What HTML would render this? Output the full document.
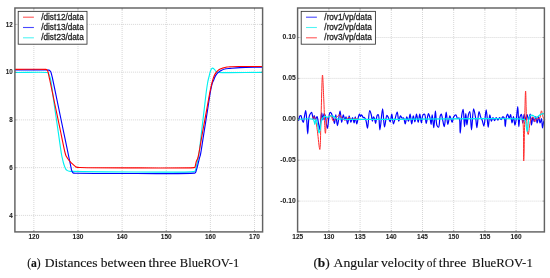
<!DOCTYPE html><html><head><meta charset="utf-8"><style>html,body{margin:0;padding:0;background:#fff;width:550px;height:278px;overflow:hidden}svg{display:block;filter:blur(0.5px)}.t{font-family:"Liberation Sans",sans-serif;fill:#222;stroke:#222;stroke-width:0.05px;font-weight:bold}.lg{stroke-width:0.28px;font-weight:normal}.c{font-family:"Liberation Serif",serif;fill:#111;stroke:#111;stroke-width:0.13px}</style></head><body>
<svg width="550" height="278" viewBox="0 0 550 278">
<g stroke="#bcbcbc" stroke-width="0.6" stroke-dasharray="1 1"><line x1="33.85" y1="8.00" x2="33.85" y2="231.90"/><line x1="77.98" y1="8.00" x2="77.98" y2="231.90"/><line x1="122.12" y1="8.00" x2="122.12" y2="231.90"/><line x1="166.25" y1="8.00" x2="166.25" y2="231.90"/><line x1="210.39" y1="8.00" x2="210.39" y2="231.90"/><line x1="254.52" y1="8.00" x2="254.52" y2="231.90"/><line x1="14.90" y1="215.40" x2="262.60" y2="215.40"/><line x1="14.90" y1="167.65" x2="262.60" y2="167.65"/><line x1="14.90" y1="119.90" x2="262.60" y2="119.90"/><line x1="14.90" y1="72.15" x2="262.60" y2="72.15"/><line x1="14.90" y1="24.40" x2="262.60" y2="24.40"/></g>
<g fill="none" stroke-width="1.12" stroke-linejoin="round">
<path d="M14.90 72.50C25.60 72.50 43.80 72.03 47.00 72.50C47.58 72.58 47.72 72.59 48.00 72.80C48.33 73.05 48.57 73.53 48.80 74.00C49.08 74.57 49.25 75.26 49.50 76.00C49.81 76.90 50.14 77.49 50.50 79.00C51.52 83.30 52.97 95.89 54.20 104.33C55.44 112.78 56.67 121.22 57.91 129.67C59.15 138.11 60.74 150.21 61.62 155.00C61.97 156.92 62.22 157.76 62.50 159.00C62.74 160.07 62.93 161.00 63.20 162.00C63.47 163.00 63.80 164.08 64.10 165.00C64.36 165.79 64.64 166.52 64.90 167.20C65.13 167.81 65.27 168.38 65.60 168.90C65.95 169.45 66.42 170.01 67.00 170.40C67.63 170.83 68.49 171.13 69.30 171.30C70.15 171.48 70.43 171.37 72.00 171.40C82.52 171.60 186.48 172.78 193.80 171.60C194.55 171.48 194.66 171.57 195.00 171.20C195.72 170.43 195.94 167.69 196.40 165.80C196.91 163.74 197.47 161.25 197.90 159.30C198.25 157.72 198.47 156.99 198.80 155.00C199.52 150.56 200.51 140.56 201.37 133.33C202.23 126.11 203.09 118.89 203.94 111.67C204.80 104.44 205.80 95.23 206.52 90.00C206.93 87.02 207.24 85.01 207.60 83.00C207.87 81.48 208.11 80.23 208.40 79.00C208.65 77.92 208.94 77.03 209.20 76.00C209.47 74.90 209.71 73.63 210.00 72.60C210.25 71.72 210.49 70.91 210.80 70.20C211.07 69.60 211.33 68.95 211.70 68.60C211.99 68.32 212.38 68.09 212.70 68.10C213.01 68.11 213.31 68.37 213.60 68.60C213.95 68.88 214.26 69.31 214.60 69.70C214.96 70.11 215.33 70.60 215.70 71.00C216.03 71.36 216.28 71.76 216.70 72.00C217.18 72.27 217.49 72.33 218.50 72.45C223.43 73.05 247.90 72.42 262.60 72.40" stroke="#00f0f0"/>
<path d="M14.90 69.95C25.53 69.95 42.54 69.79 46.80 69.95C47.87 69.99 48.26 69.95 48.80 70.10C49.20 70.21 49.50 70.35 49.80 70.60C50.15 70.89 50.45 71.33 50.70 71.80C51.00 72.36 51.18 73.05 51.40 73.80C51.68 74.74 51.83 75.40 52.20 77.00C53.27 81.68 56.03 95.44 57.95 104.67C59.87 113.89 61.78 123.11 63.70 132.33C65.62 141.56 68.61 155.94 69.45 160.00C69.68 161.14 69.74 161.42 69.90 162.20C70.08 163.08 70.30 164.06 70.50 165.00C70.70 165.96 70.91 166.99 71.10 167.90C71.27 168.71 71.38 169.50 71.60 170.20C71.79 170.82 72.00 171.43 72.30 171.90C72.55 172.30 72.83 172.68 73.20 172.90C73.59 173.12 74.07 173.14 74.60 173.20C75.29 173.28 75.60 173.24 77.00 173.25C86.79 173.35 188.01 174.01 194.30 173.15C194.86 173.07 194.93 173.12 195.20 172.90C195.62 172.55 195.90 171.61 196.20 170.80C196.58 169.77 196.85 168.54 197.20 167.20C197.64 165.52 198.17 163.22 198.60 161.50C198.96 160.08 199.27 158.77 199.60 157.60C199.87 156.64 200.09 156.30 200.39 155.00C201.25 151.30 202.70 140.56 203.85 133.33C205.00 126.11 206.15 118.89 207.30 111.67C208.45 104.44 209.78 95.10 210.75 90.00C211.29 87.19 211.64 85.23 212.20 83.50C212.59 82.29 213.02 81.62 213.50 80.50C214.12 79.07 214.73 77.01 215.60 75.60C216.37 74.35 217.28 73.31 218.30 72.40C219.29 71.52 220.38 70.79 221.60 70.20C222.90 69.57 224.47 69.10 225.90 68.80C227.27 68.51 228.33 68.55 230.00 68.40C232.60 68.17 235.99 67.80 240.00 67.60C246.02 67.29 255.07 67.27 262.60 67.10" stroke="#0000ff"/>
<path d="M14.90 69.40C25.20 69.40 42.67 68.94 45.80 69.40C46.38 69.48 46.51 69.50 46.80 69.70C47.13 69.93 47.37 70.35 47.60 70.80C47.90 71.39 48.09 72.18 48.30 73.00C48.56 74.03 48.75 75.33 49.00 76.50C49.25 77.67 49.42 78.31 49.79 80.00C50.75 84.42 53.14 96.00 54.82 104.00C56.49 112.00 58.17 120.00 59.85 128.00C61.52 136.00 63.81 147.73 64.87 152.00C65.27 153.57 65.46 154.33 65.80 155.20C66.05 155.84 66.30 156.27 66.60 156.80C66.90 157.34 67.22 157.83 67.60 158.40C68.06 159.08 68.60 159.89 69.20 160.60C69.83 161.35 70.58 162.08 71.30 162.80C72.02 163.52 72.77 164.24 73.50 164.90C74.20 165.53 74.88 166.29 75.60 166.70C76.22 167.05 76.81 167.21 77.50 167.35C78.27 167.50 78.55 167.46 80.00 167.50C89.80 167.80 188.13 168.32 194.00 167.60C194.50 167.54 194.58 167.61 194.80 167.40C195.17 167.06 195.28 166.03 195.50 165.20C195.78 164.13 195.91 162.70 196.30 161.50C196.69 160.30 197.31 159.72 197.84 158.00C199.13 153.78 200.61 142.89 202.00 135.33C203.39 127.78 204.78 120.22 206.16 112.67C207.55 105.11 209.13 95.71 210.33 90.00C211.06 86.51 211.62 84.08 212.30 81.60C212.85 79.59 213.29 77.81 214.00 76.20C214.62 74.78 215.35 73.51 216.20 72.40C217.00 71.36 217.84 70.41 218.90 69.70C220.00 68.96 221.38 68.55 222.70 68.10C224.07 67.64 225.69 67.23 227.00 67.00C228.08 66.81 228.71 66.78 230.00 66.70C232.36 66.56 236.00 66.54 240.00 66.50C246.02 66.44 255.07 66.50 262.60 66.50" stroke="#ff0000"/>
</g>
<g stroke="#626262" stroke-width="0.5"><line x1="33.85" y1="231.90" x2="33.85" y2="230.10"/><line x1="33.85" y1="8.00" x2="33.85" y2="9.80"/><line x1="77.98" y1="231.90" x2="77.98" y2="230.10"/><line x1="77.98" y1="8.00" x2="77.98" y2="9.80"/><line x1="122.12" y1="231.90" x2="122.12" y2="230.10"/><line x1="122.12" y1="8.00" x2="122.12" y2="9.80"/><line x1="166.25" y1="231.90" x2="166.25" y2="230.10"/><line x1="166.25" y1="8.00" x2="166.25" y2="9.80"/><line x1="210.39" y1="231.90" x2="210.39" y2="230.10"/><line x1="210.39" y1="8.00" x2="210.39" y2="9.80"/><line x1="254.52" y1="231.90" x2="254.52" y2="230.10"/><line x1="254.52" y1="8.00" x2="254.52" y2="9.80"/><line x1="14.90" y1="215.40" x2="16.70" y2="215.40"/><line x1="262.60" y1="215.40" x2="260.80" y2="215.40"/><line x1="14.90" y1="167.65" x2="16.70" y2="167.65"/><line x1="262.60" y1="167.65" x2="260.80" y2="167.65"/><line x1="14.90" y1="119.90" x2="16.70" y2="119.90"/><line x1="262.60" y1="119.90" x2="260.80" y2="119.90"/><line x1="14.90" y1="72.15" x2="16.70" y2="72.15"/><line x1="262.60" y1="72.15" x2="260.80" y2="72.15"/><line x1="14.90" y1="24.40" x2="16.70" y2="24.40"/><line x1="262.60" y1="24.40" x2="260.80" y2="24.40"/></g>
<rect x="14.90" y="8.00" width="247.70" height="223.90" fill="none" stroke="#626262" stroke-width="1.45"/>
<g stroke="#bcbcbc" stroke-width="0.6" stroke-dasharray="1 1"><line x1="328.90" y1="8.00" x2="328.90" y2="231.90"/><line x1="360.09" y1="8.00" x2="360.09" y2="231.90"/><line x1="391.29" y1="8.00" x2="391.29" y2="231.90"/><line x1="422.49" y1="8.00" x2="422.49" y2="231.90"/><line x1="453.68" y1="8.00" x2="453.68" y2="231.90"/><line x1="484.88" y1="8.00" x2="484.88" y2="231.90"/><line x1="516.08" y1="8.00" x2="516.08" y2="231.90"/><line x1="297.60" y1="201.10" x2="544.40" y2="201.10"/><line x1="297.60" y1="160.20" x2="544.40" y2="160.20"/><line x1="297.60" y1="119.30" x2="544.40" y2="119.30"/><line x1="297.60" y1="78.40" x2="544.40" y2="78.40"/><line x1="297.60" y1="37.50" x2="544.40" y2="37.50"/></g>
<g fill="none" stroke-width="1.2" stroke-linejoin="round" stroke-linecap="round">
<path d="M298.00 118.70C298.23 119.30 298.47 120.52 298.70 120.50C299.05 120.48 299.11 116.94 299.70 116.20C300.02 115.79 300.56 115.45 300.90 115.60C301.51 115.87 301.63 118.69 302.10 119.90C302.46 120.84 302.95 122.35 303.30 122.30C303.83 122.23 304.09 118.20 304.50 116.20C304.89 114.27 305.36 110.48 305.70 110.50C306.13 110.52 306.39 116.46 306.70 119.90C307.07 124.08 307.35 133.80 307.70 133.80C308.08 133.80 308.30 121.35 308.90 118.00C309.19 116.39 309.40 115.49 309.90 114.50C310.34 113.63 311.12 112.20 311.60 112.30C312.34 112.46 312.68 118.78 313.20 118.80C313.57 118.82 313.96 115.59 314.30 115.60C314.70 115.62 314.92 119.85 315.40 119.90C315.84 119.94 316.53 116.54 317.00 116.60C317.68 116.68 318.12 121.88 318.60 124.20C319.00 126.15 319.37 129.61 319.70 129.60C320.13 129.58 320.44 122.97 320.80 120.00C321.11 117.43 321.35 112.81 321.70 112.80C322.05 112.79 322.48 119.89 322.90 119.90C323.29 119.91 323.53 113.91 324.10 113.80C324.44 113.73 324.97 114.71 325.30 115.60C325.99 117.44 326.02 122.45 326.50 124.80C326.80 126.29 327.20 128.42 327.50 128.40C327.99 128.36 328.22 121.56 328.70 118.70C329.08 116.39 329.28 112.82 330.00 112.50C330.34 112.35 330.85 112.80 331.20 113.20C331.73 113.81 332.02 115.14 332.40 116.20C332.82 117.36 333.25 118.67 333.60 119.90C333.94 121.10 334.21 123.51 334.50 123.50C334.95 123.48 335.35 114.80 335.80 114.80C336.31 114.80 336.84 125.59 337.40 125.60C337.91 125.61 338.52 119.52 339.00 116.90C339.40 114.74 339.72 110.99 340.10 111.00C340.62 111.01 341.10 122.28 341.70 122.30C342.19 122.32 342.72 114.82 343.30 114.80C343.80 114.78 344.40 120.19 344.90 120.20C345.29 120.21 345.63 116.88 346.00 116.90C346.53 116.93 347.08 123.91 347.60 123.90C348.15 123.89 348.62 115.92 349.20 115.90C349.73 115.88 350.31 122.28 350.90 122.30C351.42 122.32 351.98 117.49 352.50 117.50C353.05 117.51 353.66 122.92 354.10 122.90C354.56 122.88 354.77 116.91 355.20 116.90C355.66 116.89 356.27 123.90 356.80 123.90C357.33 123.90 357.84 118.67 358.40 116.90C358.76 115.77 359.12 114.21 359.50 114.20C359.85 114.19 360.23 116.38 360.60 116.40C360.93 116.42 361.23 114.80 361.60 114.80C362.08 114.81 362.61 117.17 363.20 117.50C363.55 117.70 363.95 117.30 364.30 117.50C364.89 117.83 365.44 119.01 365.90 120.20C366.63 122.12 366.98 128.22 367.50 128.20C368.27 128.17 368.76 110.61 369.70 110.50C370.18 110.44 370.87 113.20 371.30 114.80C371.81 116.70 371.99 121.18 372.40 121.20C372.74 121.21 373.05 116.97 373.50 116.90C373.80 116.85 374.21 117.79 374.50 118.50C374.98 119.66 375.21 123.41 375.60 123.40C376.10 123.39 376.36 116.36 377.20 115.30C377.52 114.89 377.98 114.62 378.30 114.80C379.43 115.45 379.26 129.89 379.90 129.90C380.65 129.91 381.81 108.79 382.60 108.80C383.33 108.81 383.67 126.96 384.50 127.00C385.17 127.03 385.94 115.46 386.90 115.30C387.39 115.22 387.99 117.01 388.50 118.00C389.09 119.14 389.71 121.85 390.20 121.80C390.87 121.73 391.29 114.19 391.80 114.20C392.37 114.21 392.74 123.85 393.40 123.90C393.87 123.94 394.43 120.85 395.00 119.10C395.68 116.99 396.59 112.06 397.20 112.10C397.89 112.14 398.18 121.16 398.80 121.20C399.28 121.23 399.73 116.02 400.40 115.90C400.87 115.82 401.38 117.69 402.00 118.00C402.48 118.24 403.15 117.66 403.60 118.00C404.47 118.67 404.69 123.91 405.20 123.90C405.76 123.89 406.17 116.95 406.80 116.90C407.30 116.86 408.00 121.24 408.50 121.20C409.13 121.15 409.60 114.18 410.10 114.20C410.68 114.22 411.14 123.89 411.70 123.90C412.21 123.91 412.72 115.92 413.30 115.90C413.80 115.88 414.39 121.81 414.90 121.80C415.47 121.78 415.96 114.20 416.50 114.20C417.06 114.20 417.65 122.30 418.20 122.30C418.75 122.30 419.28 114.20 419.80 114.20C420.34 114.20 420.86 122.90 421.40 122.90C421.92 122.90 422.03 115.95 423.00 114.80C423.44 114.28 424.16 113.95 424.60 114.20C425.63 114.79 425.58 123.38 426.20 123.40C426.84 123.42 427.64 113.75 428.40 113.70C428.92 113.67 429.57 116.40 430.00 118.00C430.52 119.92 430.76 124.51 431.10 124.50C431.51 124.49 431.79 114.80 432.20 114.80C432.67 114.80 433.30 127.71 433.80 127.70C434.37 127.69 434.85 111.00 435.40 111.00C435.92 111.00 435.87 123.25 437.00 125.60C437.44 126.52 438.16 127.35 438.60 127.20C439.59 126.87 439.43 117.96 440.20 115.90C440.52 115.03 440.96 114.14 441.30 114.20C441.94 114.31 442.37 119.02 442.90 121.20C443.37 123.12 443.86 126.63 444.30 126.60C445.01 126.56 445.60 112.10 446.20 112.10C446.76 112.10 447.10 124.46 447.80 124.50C448.39 124.53 449.13 115.94 449.90 115.90C450.58 115.87 451.44 122.31 452.10 122.30C452.70 122.29 452.90 118.21 453.70 116.90C454.29 115.94 455.29 114.68 455.90 114.80C456.60 114.94 456.79 118.17 457.50 118.50C457.96 118.71 458.67 117.71 459.10 118.00C460.39 118.88 459.78 133.10 460.20 133.10C460.67 133.10 461.06 119.07 461.80 114.80C462.21 112.45 462.81 109.37 463.20 109.40C463.88 109.46 464.03 126.59 464.50 126.60C464.91 126.61 465.39 113.70 465.80 113.70C466.19 113.70 466.45 124.99 466.90 125.00C467.33 125.01 467.72 117.23 468.40 114.80C468.80 113.36 469.40 111.44 469.80 111.50C470.71 111.64 470.89 129.90 471.50 129.90C472.15 129.90 472.70 108.85 473.60 108.80C474.23 108.76 475.24 115.81 475.80 119.10C476.31 122.08 476.47 127.70 476.90 127.70C477.49 127.70 478.17 111.57 479.00 111.50C479.49 111.46 480.00 115.34 480.60 116.90C481.09 118.16 481.71 118.92 482.20 120.20C482.84 121.86 483.37 126.14 483.90 126.10C484.76 126.04 485.49 109.89 486.20 109.90C486.93 109.91 487.55 127.20 488.20 127.20C488.75 127.20 489.15 114.84 489.80 114.80C490.27 114.77 490.78 121.15 491.40 121.20C491.88 121.24 492.45 117.52 493.00 117.50C493.52 117.49 494.07 120.70 494.60 120.70C495.13 120.70 495.63 117.53 496.20 117.50C496.74 117.47 497.35 120.21 497.90 120.20C498.45 120.19 498.94 117.53 499.50 117.50C500.01 117.47 500.59 119.63 501.10 119.60C501.66 119.57 502.09 117.04 502.70 116.90C503.18 116.79 503.89 117.31 504.30 118.00C505.16 119.45 504.85 126.60 505.20 126.60C505.58 126.60 505.85 118.52 506.50 116.40C506.82 115.36 507.22 114.18 507.60 114.20C508.11 114.22 508.69 118.30 509.20 118.30C509.69 118.30 510.19 114.56 510.60 114.60C511.20 114.66 511.48 122.98 512.00 123.00C512.46 123.01 513.04 116.49 513.50 116.50C514.02 116.52 514.40 125.09 514.90 125.10C515.34 125.11 515.88 121.19 516.30 118.70C516.88 115.29 517.41 106.49 517.80 106.50C518.31 106.52 518.35 126.58 518.80 126.60C519.11 126.61 519.22 119.37 519.90 117.20C520.29 115.94 520.98 114.33 521.40 114.40C522.09 114.52 522.33 123.00 522.80 123.00C523.27 123.00 523.66 114.43 524.20 114.40C524.65 114.38 525.21 120.10 525.70 120.10C526.18 120.10 526.63 114.50 527.10 114.50C527.56 114.50 528.00 119.99 528.50 120.00C529.03 120.01 529.74 113.96 530.20 114.00C530.82 114.05 531.00 125.09 531.50 125.10C531.92 125.11 532.35 117.24 532.90 117.20C533.32 117.17 533.83 121.61 534.30 121.60C534.80 121.59 535.34 116.48 535.80 116.50C536.32 116.52 536.73 123.00 537.20 123.00C537.67 123.00 538.12 116.50 538.60 116.50C539.08 116.50 539.56 122.98 540.10 123.00C540.54 123.02 541.13 118.66 541.50 118.70C542.03 118.76 542.09 127.98 542.50 128.00C542.84 128.01 543.27 123.01 543.70 121.60C543.92 120.87 544.17 120.53 544.40 120.00" stroke="#0000ff"/>
<path d="M312.50 119.30C312.90 118.37 313.24 116.58 313.70 116.50C314.04 116.44 314.47 117.08 314.80 117.70C315.47 118.96 315.96 121.94 316.40 124.20C316.87 126.62 317.08 128.74 317.50 131.80C318.14 136.47 319.23 149.53 319.80 149.50C320.55 149.47 320.59 129.32 321.00 118.00C321.48 104.78 321.96 75.00 322.50 75.00C322.91 75.00 323.35 91.07 323.80 100.00C324.32 110.31 324.76 133.28 325.40 133.30C325.79 133.31 325.89 124.15 326.70 121.00C327.24 118.92 327.83 116.71 328.80 116.00C329.42 115.54 330.36 115.43 331.00 115.80C332.02 116.40 332.32 120.84 333.30 121.00C334.19 121.15 335.42 118.57 336.50 117.50C337.49 116.52 338.58 114.72 339.50 114.80C340.42 114.88 341.05 117.12 342.00 118.00C342.90 118.83 343.92 119.98 345.00 120.00C346.23 120.02 347.77 117.47 349.00 117.50C350.08 117.53 350.96 119.45 352.00 119.60C352.97 119.74 353.99 118.65 355.00 118.60C355.99 118.55 357.00 119.07 358.00 119.30" stroke="#ff2a2a" stroke-width="1.0"/>
<path d="M521.50 119.30C521.80 119.40 522.13 119.24 522.40 119.60C524.18 121.99 523.32 161.00 523.70 161.00C524.09 161.00 524.35 131.59 524.70 119.00C524.99 108.72 525.28 91.00 525.60 91.00C525.92 91.00 526.05 111.04 526.60 119.00C527.01 124.93 527.50 134.48 528.20 134.50C528.88 134.52 529.44 122.99 530.70 120.10C531.33 118.66 532.21 117.14 532.90 117.20C533.70 117.27 534.35 121.58 535.10 121.60C535.79 121.62 536.34 118.33 537.20 118.00C537.84 117.75 538.79 119.03 539.40 118.70C540.54 118.07 540.88 110.79 541.50 110.80C542.06 110.81 542.32 115.77 543.00 117.20C543.40 118.04 543.93 118.40 544.40 119.00" stroke="#ff2a2a" stroke-width="1.0"/>
<path d="M297.80 119.30C302.87 119.30 310.77 117.90 313.00 119.30C313.99 119.92 313.98 121.10 314.30 122.00C314.60 122.83 314.69 124.51 314.90 124.50C315.21 124.49 315.46 119.03 315.90 119.00C316.33 118.97 317.02 122.22 317.50 124.20C318.12 126.73 318.54 132.96 319.10 133.00C319.46 133.02 319.88 131.01 320.20 129.60C320.69 127.40 320.66 123.15 321.30 121.00C321.72 119.60 322.16 118.48 322.90 117.70C323.54 117.03 324.55 116.40 325.30 116.40C325.97 116.40 326.58 117.41 327.20 117.40C327.81 117.39 328.34 116.66 329.00 116.40C329.73 116.11 330.62 115.79 331.40 115.80C332.15 115.81 332.88 116.05 333.60 116.40C334.42 116.80 335.16 117.73 336.00 118.20C336.80 118.65 337.65 119.11 338.50 119.20C339.32 119.29 340.07 118.82 341.00 118.80C342.18 118.78 342.67 119.16 345.00 119.30C360.49 120.26 513.54 117.09 523.50 119.30C524.46 119.51 524.56 119.44 525.00 120.00C526.17 121.50 526.52 131.51 527.20 131.50C527.96 131.48 527.98 119.75 529.30 117.20C529.90 116.03 530.72 115.27 531.50 115.10C532.17 114.95 532.94 115.39 533.60 115.80C534.39 116.29 535.05 117.94 535.80 118.00C536.48 118.06 537.14 117.04 537.90 116.50C538.79 115.86 539.87 114.90 540.80 114.40C541.55 114.00 542.35 113.62 543.00 113.60C543.52 113.58 543.93 113.87 544.40 114.00" stroke="#00f0f0"/>
</g>
<g stroke="#626262" stroke-width="0.5"><line x1="328.90" y1="231.90" x2="328.90" y2="230.10"/><line x1="328.90" y1="8.00" x2="328.90" y2="9.80"/><line x1="360.09" y1="231.90" x2="360.09" y2="230.10"/><line x1="360.09" y1="8.00" x2="360.09" y2="9.80"/><line x1="391.29" y1="231.90" x2="391.29" y2="230.10"/><line x1="391.29" y1="8.00" x2="391.29" y2="9.80"/><line x1="422.49" y1="231.90" x2="422.49" y2="230.10"/><line x1="422.49" y1="8.00" x2="422.49" y2="9.80"/><line x1="453.68" y1="231.90" x2="453.68" y2="230.10"/><line x1="453.68" y1="8.00" x2="453.68" y2="9.80"/><line x1="484.88" y1="231.90" x2="484.88" y2="230.10"/><line x1="484.88" y1="8.00" x2="484.88" y2="9.80"/><line x1="516.08" y1="231.90" x2="516.08" y2="230.10"/><line x1="516.08" y1="8.00" x2="516.08" y2="9.80"/><line x1="297.60" y1="201.10" x2="299.40" y2="201.10"/><line x1="544.40" y1="201.10" x2="542.60" y2="201.10"/><line x1="297.60" y1="160.20" x2="299.40" y2="160.20"/><line x1="544.40" y1="160.20" x2="542.60" y2="160.20"/><line x1="297.60" y1="119.30" x2="299.40" y2="119.30"/><line x1="544.40" y1="119.30" x2="542.60" y2="119.30"/><line x1="297.60" y1="78.40" x2="299.40" y2="78.40"/><line x1="544.40" y1="78.40" x2="542.60" y2="78.40"/><line x1="297.60" y1="37.50" x2="299.40" y2="37.50"/><line x1="544.40" y1="37.50" x2="542.60" y2="37.50"/></g>
<rect x="297.60" y="8.00" width="246.80" height="223.90" fill="none" stroke="#626262" stroke-width="1.45"/>
<text class="t" x="33.85" y="238.50" font-size="6.4" text-anchor="middle" textLength="10.90" lengthAdjust="spacingAndGlyphs">120</text>
<text class="t" x="77.98" y="238.50" font-size="6.4" text-anchor="middle" textLength="10.90" lengthAdjust="spacingAndGlyphs">130</text>
<text class="t" x="122.12" y="238.50" font-size="6.4" text-anchor="middle" textLength="10.90" lengthAdjust="spacingAndGlyphs">140</text>
<text class="t" x="166.25" y="238.50" font-size="6.4" text-anchor="middle" textLength="10.90" lengthAdjust="spacingAndGlyphs">150</text>
<text class="t" x="210.39" y="238.50" font-size="6.4" text-anchor="middle" textLength="10.90" lengthAdjust="spacingAndGlyphs">160</text>
<text class="t" x="254.52" y="238.50" font-size="6.4" text-anchor="middle" textLength="10.90" lengthAdjust="spacingAndGlyphs">170</text>
<text class="t" x="12.70" y="217.50" font-size="6.4" text-anchor="end" textLength="3.50" lengthAdjust="spacingAndGlyphs">4</text>
<text class="t" x="12.70" y="169.75" font-size="6.4" text-anchor="end" textLength="3.50" lengthAdjust="spacingAndGlyphs">6</text>
<text class="t" x="12.70" y="122.00" font-size="6.4" text-anchor="end" textLength="3.50" lengthAdjust="spacingAndGlyphs">8</text>
<text class="t" x="12.70" y="74.25" font-size="6.4" text-anchor="end" textLength="7.00" lengthAdjust="spacingAndGlyphs">10</text>
<text class="t" x="12.70" y="26.50" font-size="6.4" text-anchor="end" textLength="7.00" lengthAdjust="spacingAndGlyphs">12</text>
<text class="t" x="297.70" y="238.60" font-size="6.4" text-anchor="middle" textLength="10.90" lengthAdjust="spacingAndGlyphs">125</text>
<text class="t" x="328.90" y="238.60" font-size="6.4" text-anchor="middle" textLength="10.90" lengthAdjust="spacingAndGlyphs">130</text>
<text class="t" x="360.09" y="238.60" font-size="6.4" text-anchor="middle" textLength="10.90" lengthAdjust="spacingAndGlyphs">135</text>
<text class="t" x="391.29" y="238.60" font-size="6.4" text-anchor="middle" textLength="10.90" lengthAdjust="spacingAndGlyphs">140</text>
<text class="t" x="422.49" y="238.60" font-size="6.4" text-anchor="middle" textLength="10.90" lengthAdjust="spacingAndGlyphs">145</text>
<text class="t" x="453.68" y="238.60" font-size="6.4" text-anchor="middle" textLength="10.90" lengthAdjust="spacingAndGlyphs">150</text>
<text class="t" x="484.88" y="238.60" font-size="6.4" text-anchor="middle" textLength="10.90" lengthAdjust="spacingAndGlyphs">155</text>
<text class="t" x="516.08" y="238.60" font-size="6.4" text-anchor="middle" textLength="10.90" lengthAdjust="spacingAndGlyphs">160</text>
<text class="t" x="295.70" y="39.00" font-size="6.4" text-anchor="end" textLength="13.20" lengthAdjust="spacingAndGlyphs">0.10</text>
<text class="t" x="295.70" y="79.90" font-size="6.4" text-anchor="end" textLength="13.20" lengthAdjust="spacingAndGlyphs">0.05</text>
<text class="t" x="295.70" y="120.80" font-size="6.4" text-anchor="end" textLength="13.20" lengthAdjust="spacingAndGlyphs">0.00</text>
<text class="t" x="295.70" y="161.70" font-size="6.4" text-anchor="end" textLength="15.40" lengthAdjust="spacingAndGlyphs">-0.05</text>
<text class="t" x="295.70" y="202.60" font-size="6.4" text-anchor="end" textLength="15.40" lengthAdjust="spacingAndGlyphs">-0.10</text>
<rect x="18.20" y="11.35" width="68.80" height="32.85" fill="#fff" stroke="#303030" stroke-width="0.85"/>
<line x1="23.00" y1="17.20" x2="33.90" y2="17.20" stroke="#ff5858" stroke-width="1.1"/>
<text class="t lg" x="41.25 43.53 48.12 49.80 53.93 56.41 60.89 65.47 67.75 72.15 76.83 79.23" y="19.85" font-size="8.20">/dist12/data</text>
<line x1="23.00" y1="27.50" x2="33.90" y2="27.50" stroke="#4848ff" stroke-width="1.1"/>
<text class="t lg" x="41.25 43.53 48.12 49.80 53.93 56.41 60.89 65.47 67.75 72.15 76.83 79.23" y="30.15" font-size="8.20">/dist13/data</text>
<line x1="23.00" y1="37.80" x2="33.90" y2="37.80" stroke="#50f4f4" stroke-width="1.1"/>
<text class="t lg" x="41.25 43.53 48.12 49.80 53.93 56.41 60.89 65.47 67.75 72.15 76.83 79.23" y="40.45" font-size="8.20">/dist23/data</text>
<rect x="301.20" y="11.35" width="74.20" height="32.85" fill="#fff" stroke="#303030" stroke-width="0.85"/>
<line x1="306.00" y1="17.20" x2="316.90" y2="17.20" stroke="#4848ff" stroke-width="1.1"/>
<text class="t lg" x="324.25 326.66 329.35 333.82 337.92 342.49 344.86 348.95 353.52 355.80 360.20 364.88 367.28" y="19.85" font-size="8.20">/rov1/vp/data</text>
<line x1="306.00" y1="27.50" x2="316.90" y2="27.50" stroke="#50f4f4" stroke-width="1.1"/>
<text class="t lg" x="324.25 326.66 329.35 333.82 337.92 342.49 344.86 348.95 353.52 355.80 360.20 364.88 367.28" y="30.15" font-size="8.20">/rov2/vp/data</text>
<line x1="306.00" y1="37.80" x2="316.90" y2="37.80" stroke="#ff5858" stroke-width="1.1"/>
<text class="t lg" x="324.25 326.66 329.35 333.82 337.92 342.49 344.86 348.95 353.52 355.80 360.20 364.88 367.28" y="40.45" font-size="8.20">/rov3/vp/data</text>
<text class="c" x="27.20" y="266.60" font-size="12.8" textLength="13.50" lengthAdjust="spacingAndGlyphs">(<tspan font-weight="bold">a</tspan>)</text>
<text class="c" x="44.80" y="266.60" font-size="12.8" textLength="52.70" lengthAdjust="spacingAndGlyphs">Distances</text>
<text class="c" x="100.80" y="266.60" font-size="12.8" textLength="45.20" lengthAdjust="spacingAndGlyphs">between</text>
<text class="c" x="148.40" y="266.60" font-size="12.8" textLength="28.00" lengthAdjust="spacingAndGlyphs">three</text>
<text class="c" x="179.80" y="266.60" font-size="12.8" textLength="59.40" lengthAdjust="spacingAndGlyphs">BlueROV-1</text>
<text class="c" x="313.40" y="266.60" font-size="12.8" textLength="16.40" lengthAdjust="spacingAndGlyphs">(<tspan font-weight="bold">b</tspan>)</text>
<text class="c" x="333.50" y="266.60" font-size="12.8" textLength="44.90" lengthAdjust="spacingAndGlyphs">Angular</text>
<text class="c" x="381.00" y="266.60" font-size="12.8" textLength="43.60" lengthAdjust="spacingAndGlyphs">velocity</text>
<text class="c" x="426.80" y="266.60" font-size="12.8" textLength="9.50" lengthAdjust="spacingAndGlyphs">of</text>
<text class="c" x="438.80" y="266.60" font-size="12.8" textLength="27.60" lengthAdjust="spacingAndGlyphs">three</text>
<text class="c" x="472.10" y="266.60" font-size="12.8" textLength="60.70" lengthAdjust="spacingAndGlyphs">BlueROV-1</text>
</svg></body></html>
